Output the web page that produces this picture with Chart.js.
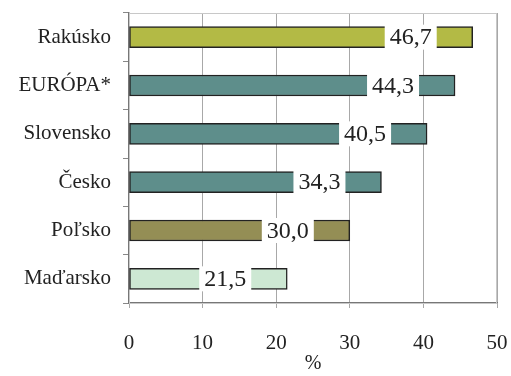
<!DOCTYPE html>
<html>
<head>
<meta charset="utf-8">
<script src="https://cdn.jsdelivr.net/npm/chart.js@4.4.1/dist/chart.umd.min.js"></script>
<style>
  html, body { margin: 0; padding: 0; background: #fff; }
  #wrap { width: 511px; height: 376px; position: relative; }
</style>
</head>
<body>
<div id="wrap"><canvas id="chart"></canvas></div>
<script>
// data
const countries = ["Rakúsko", "EURÓPA*", "Slovensko", "Česko", "Poľsko", "Maďarsko"];
const shares = [46.7, 44.3, 40.5, 34.3, 30.0, 21.5];
const barColors = ["#b3ba45", "#5e8e8b", "#5e8e8b", "#5e8e8b", "#948e55", "#cde8d3"];
const xTicks = [0, 10, 20, 30, 40, 50];

const serif = "'Liberation Serif', 'DejaVu Serif', serif";

// white box with the value, sitting a bit before the end of each bar
const valueBoxes = {
  id: "valueBoxes",
  afterDatasetsDraw(chart) {
    const ctx = chart.ctx;
    const meta = chart.getDatasetMeta(0);
    ctx.save();
    ctx.font = "24px " + serif;
    ctx.textAlign = "center";
    ctx.textBaseline = "middle";
    meta.data.forEach((bar, i) => {
      const w = 52;
      const right = bar.x - 36;
      const top = bar.y - bar.height / 2 - 2;
      ctx.fillStyle = "#fff";
      ctx.fillRect(right - w, top, w, bar.height + 4);
      ctx.fillStyle = "#222";
      ctx.fillText(shares[i].toFixed(1).replace(".", ","), right - w / 2, bar.y + 1);
    });
    ctx.restore();
  },
};

// light frame around the plot area
const frame = {
  id: "frame",
  beforeDatasetsDraw(chart) {
    const { ctx, chartArea: a } = chart;
    ctx.save();
    ctx.strokeStyle = "#c8c8c8";
    ctx.lineWidth = 1;
    ctx.strokeRect(a.left + 0.5, a.top + 0.5, a.right - a.left - 1, a.bottom - a.top);
    ctx.restore();
  },
};

new Chart(document.querySelector("#chart"), {
  type: "bar",
  data: {
    labels: countries,
    datasets: [
      {
        data: shares,
        backgroundColor: barColors,
        borderColor: "#222",
        borderWidth: 1.5,
        borderSkipped: false,
        barThickness: 21,
      },
    ],
  },
  options: {
    indexAxis: "y",
    responsive: true,
    maintainAspectRatio: false,
    animation: false,
    layout: { padding: { top: 13, right: 0, left: 0, bottom: 0 } },
    plugins: {
      legend: { display: false },
      tooltip: { enabled: false },
    },
    scales: {
      x: {
        min: 0,
        max: 50,
        afterBuildTicks: (axis) => {
          axis.ticks = xTicks.map((v) => ({ value: v }));
        },
        afterFit: (axis) => {
          axis.height = 73;
          axis.paddingRight = 14;
        },
        grid: { color: "#a8a8a8", tickLength: 5, drawTicks: true },
        border: { color: "#777", width: 1.5 },
        ticks: { color: "#222", font: { family: serif, size: 21 }, padding: 23 },
        title: {
          display: true,
          text: "%",
          color: "#222",
          font: { family: serif, size: 20 },
          padding: { top: 0, bottom: 0 },
        },
      },
      y: {
        afterFit: (axis) => {
          axis.width = 129;
          axis.paddingTop = 0;
          axis.paddingBottom = 0;
        },
        grid: { offset: true, drawOnChartArea: false, tickLength: 6, color: "#888" },
        border: { color: "#777", width: 1.5 },
        ticks: { color: "#222", font: { family: serif, size: 21 }, padding: 12 },
      },
    },
  },
  plugins: [frame, valueBoxes],
});
</script>
</body>
</html>
